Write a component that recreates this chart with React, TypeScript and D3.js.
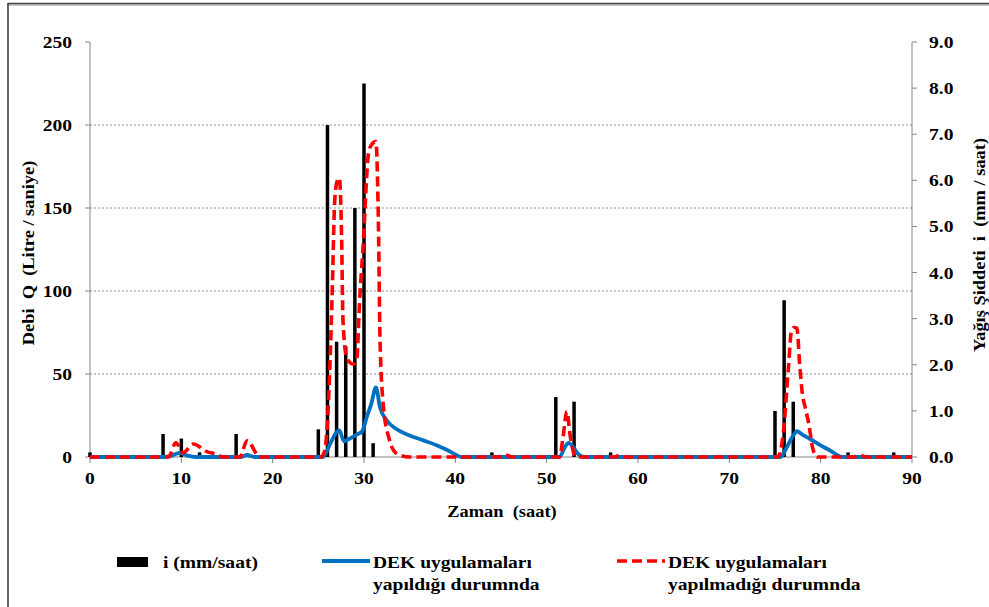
import React from "react";
import * as d3 from "d3";

// yağış şiddeti (mm/saat) - sağ eksen
const rainHours = [0, 8, 10, 12, 16, 25, 26, 27, 28, 29, 30, 31, 44, 51, 53, 57, 75, 76, 77, 83, 88];
const rainValues = [0.1, 0.5, 0.4, 0.1, 0.5, 0.6, 7.2, 2.5, 2.4, 5.4, 8.1, 0.3, 0.1, 1.3, 1.2, 0.1, 1.0, 3.4, 1.2, 0.1, 0.1];

// DEK uygulamaları yapıldığı durumda (Q, L/s)
const withHours = [0, 8, 9, 9.8, 10.6, 11.5, 16.5, 17.2, 18, 25.5, 26.3, 27.0, 27.3, 27.8, 28.4, 29.2, 29.8, 30.3, 30.8, 31.3, 31.75, 32.5, 33.5, 35, 36.5, 38, 39, 40, 40.6, 51.4, 52.0, 52.4, 52.9, 53.5, 54.1, 75.6, 76.3, 77.0, 77.4, 78.0, 78.8, 80, 81, 82.4, 90];
const withValues = [0, 0, 1, 2.5, 1, 0, 0, 1.2, 0, 0, 8, 15, 16, 9.5, 11, 13.5, 15.5, 24, 32, 42, 30, 22, 17, 13, 10, 7, 4.5, 1.5, 0, 0, 6, 8.5, 6, 1.5, 0, 0, 6, 13, 15.5, 13.5, 11, 7, 4, 0, 0];

// DEK uygulamaları yapılmadığı durumda (Q, L/s)
const withoutHours = [0, 8.6, 9.4, 10.2, 11.3, 12.8, 13.9, 14.5, 16.4, 17.2, 18.6, 25.3, 25.7, 26.1, 26.5, 26.8, 27.05, 27.3, 27.55, 27.7, 28.1, 28.8, 29.2, 29.5, 29.9, 30.5, 30.8, 31.3, 31.6, 31.75, 32.1, 32.7, 33.6, 35, 44.8, 45.5, 46.2, 51.4, 51.8, 52.2, 52.6, 53.2, 57.4, 58, 58.6, 75.3, 75.9, 76.5, 76.8, 77.1, 77.4, 77.7, 78.0, 78.3, 78.7, 79.1, 79.6, 83.6, 84.3, 85, 90];
const withoutValues = [0, 0, 8.6, 2.5, 7.8, 3.2, 1.5, 0, 0, 9.8, 0, 0, 4, 32, 95, 155, 166, 168, 132, 82, 60, 56, 58, 92, 127, 183, 188, 190, 133, 72, 32, 12, 2, 0, 0, 1.2, 0, 0, 12, 27.5, 12, 0, 0, 1, 0, 0, 14, 56, 76, 78, 77.5, 56, 38, 30, 20, 6, 0, 0, 1, 0, 0];

const xTicks = [0, 10, 20, 30, 40, 50, 60, 70, 80, 90];
const qTicks = [0, 50, 100, 150, 200, 250];
const iTicks = [0, 1, 2, 3, 4, 5, 6, 7, 8, 9];
const gridTicks = [50, 100, 150, 200];

const W = 989;
const H = 607;
const left = 90;
const right = 912;
const top = 42;
const bottom = 457;

const font = '"Liberation Serif", "DejaVu Serif", serif';
const axisColor = "#868686";
const stretch = 1.15;

type TProps = { x: number; y: number; rot?: number; anchor?: string; size?: number; dy?: string; children: React.ReactNode };

// metin biraz yatay geniş duruyor, o yüzden scale ile açıyoruz
const T = ({ x, y, rot = 0, anchor = "start", size = 17, dy, children }: TProps) => (
  <text
    transform={`translate(${x},${y}) rotate(${rot}) scale(${stretch},1)`}
    textAnchor={anchor}
    fontSize={size}
    dy={dy}
    xmlSpace="preserve"
  >
    {children}
  </text>
);

export default function App() {
  const x = d3.scaleLinear().domain([0, 90]).range([left, right]);
  const yQ = d3.scaleLinear().domain([0, 250]).range([bottom, top]);
  const yI = d3.scaleLinear().domain([0, 9]).range([bottom, top]);

  const line = d3
    .line<[number, number]>()
    .x(d => x(d[0]))
    .y(d => yQ(d[1]))
    .curve(d3.curveMonotoneX);

  const withPts = withHours.map((h, i) => [h, withValues[i]] as [number, number]);
  const withoutPts = withoutHours.map((h, i) => [h, withoutValues[i]] as [number, number]);
  const barW = 3.5;

  return (
    <svg
      width={W}
      height={H}
      style={{ position: "absolute", left: 0, top: 0, background: "#fff", fontFamily: font, fontWeight: "bold" }}
    >
      {/* dış çerçeve */}
      <line x1={8} y1={5} x2={W} y2={5} stroke="#c8c8c8" strokeWidth={2} />
      <line x1={8} y1={3.5} x2={W} y2={3.5} stroke="#444" strokeWidth={1.5} />
      <line x1={8} y1={3} x2={8} y2={H} stroke="#333" strokeWidth={1.5} />

      {/* ızgara */}
      {gridTicks.map(t => (
        <line key={t} x1={left} x2={right} y1={yQ(t)} y2={yQ(t)} stroke="#8c8c8c" strokeWidth={1} strokeDasharray="2,2" />
      ))}

      {/* eksenler */}
      <line x1={left} x2={left} y1={top} y2={bottom} stroke={axisColor} />
      <line x1={right} x2={right} y1={top} y2={bottom} stroke={axisColor} />
      <line x1={left} x2={right} y1={bottom} y2={bottom} stroke={axisColor} />
      {qTicks.map(t => (
        <g key={t}>
          <line x1={left - 5} x2={left} y1={yQ(t)} y2={yQ(t)} stroke={axisColor} />
          <T x={72} y={yQ(t)} dy="0.35em" anchor="end">{t}</T>
        </g>
      ))}
      {iTicks.map(t => (
        <g key={t}>
          <line x1={right} x2={right + 5} y1={yI(t)} y2={yI(t)} stroke={axisColor} />
          <T x={929} y={yI(t)} dy="0.35em">{d3.format(".1f")(t)}</T>
        </g>
      ))}
      {xTicks.map(t => (
        <g key={t}>
          <line x1={x(t)} x2={x(t)} y1={bottom} y2={bottom + 6} stroke={axisColor} />
          <T x={x(t)} y={484} anchor="middle">{t}</T>
        </g>
      ))}

      {/* yağış çubukları */}
      {rainHours.map((h, i) => (
        <rect key={h} x={x(h) - barW / 2} y={yI(rainValues[i])} width={barW} height={yI(0) - yI(rainValues[i])} fill="#000" />
      ))}

      <path d={line(withPts) ?? ""} fill="none" stroke="#0070C0" strokeWidth={3.8} />
      <path d={line(withoutPts) ?? ""} fill="none" stroke="#FF0000" strokeWidth={3.6} strokeDasharray="10,5" />

      {/* eksen başlıkları */}
      <T x={502} y={517} anchor="middle" size={16}>Zaman  (saat)</T>
      <T x={34} y={253} rot={-90} anchor="middle" size={16}>Debi  Q  (Litre / saniye)</T>
      <T x={985} y={245} rot={-90} anchor="middle" size={16}>Yağış Şiddeti  i  (mm / saat)</T>

      {/* lejant */}
      <rect x={117} y={557} width={31} height={10} fill="#000" />
      <T x={163} y={568}>i (mm/saat)</T>
      <line x1={322} x2={370} y1={561} y2={561} stroke="#0070C0" strokeWidth={3.8} />
      <T x={373} y={568}>DEK uygulamaları</T>
      <T x={373} y={590}>yapıldığı durumnda</T>
      <line x1={617} x2={665} y1={561} y2={561} stroke="#FF0000" strokeWidth={3.6} strokeDasharray="10,5" />
      <T x={668} y={568}>DEK uygulamaları</T>
      <T x={668} y={590}>yapılmadığı durumnda</T>
    </svg>
  );
}
